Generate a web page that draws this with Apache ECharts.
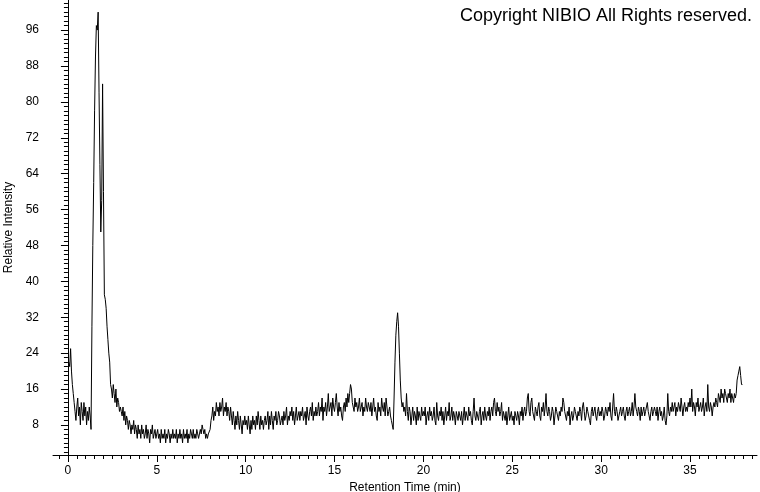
<!DOCTYPE html>
<html>
<head>
<meta charset="utf-8">
<script src="https://cdn.jsdelivr.net/npm/echarts@6/dist/echarts.min.js"></script>
<style>
  html, body { margin: 0; padding: 0; background: #fff; }
  #chart { width: 760px; height: 492px; }
</style>
</head>
<body>
<div id="chart"></div>
<script>
// retention time of first sample and sampling step (min)
const startTime = 0.05
const sampleStep = 0.05

// relative intensity, one value per sample (20 per minute)
const intensity = [
  22, 21, 25, 20, 17, 15, 13, 11, 9, 12, 14, 10, 12, 8, 13, 11, 9, 13, 10, 12,
  8, 11, 9, 12, 10, 7, 30, 48, 62, 78, 90, 97, 96, 100, 82, 66, 51, 58, 84, 60,
  37, 36, 34, 30, 27, 24, 22, 17, 16, 14, 17, 15, 13, 16, 12, 14, 13, 11, 12, 11,
  10, 12, 9, 11, 8, 10, 9, 7, 9, 8, 6, 8, 7, 9, 6, 8, 7, 5, 8, 6,
  7, 5, 8, 6, 7, 5, 6, 8, 5, 7, 6, 4, 7, 6, 8, 5, 6, 7, 5, 6,
  7, 5, 6, 4, 7, 5, 6, 5, 7, 4, 6, 5, 7, 6, 4, 6, 5, 7, 5, 6,
  5, 7, 4, 6, 5, 7, 5, 6, 4, 7, 5, 6, 5, 7, 4, 6, 5, 7, 6, 5,
  7, 5, 6, 5, 7, 6, 5, 6, 7, 6, 8, 7, 6, 7, 5, 6, 5, 6, 6, 7,
  9, 10, 12, 9, 11, 10, 13, 11, 12, 10, 13, 11, 12, 14, 10, 12, 11, 13, 10, 12,
  11, 9, 12, 10, 8, 11, 9, 7, 10, 8, 11, 9, 7, 10, 8, 6, 9, 8, 10, 8,
  9, 7, 10, 8, 6, 9, 7, 10, 8, 9, 7, 10, 8, 11, 9, 7, 10, 8, 9, 7,
  9, 10, 8, 9, 11, 7, 10, 8, 11, 9, 7, 10, 9, 11, 8, 9, 11, 10, 8, 9,
  10, 8, 11, 9, 10, 12, 8, 10, 9, 11, 10, 12, 9, 11, 8, 10, 12, 9, 10, 11,
  9, 11, 10, 12, 9, 10, 11, 8, 12, 10, 9, 11, 12, 10, 13, 9, 11, 10, 12, 10,
  11, 13, 10, 12, 11, 14, 9, 12, 11, 13, 10, 12, 15, 11, 12, 13, 10, 14, 12, 11,
  13, 15, 12, 10, 13, 11, 12, 10, 9, 12, 13, 11, 14, 12, 15, 13, 15, 17, 16, 13,
  12, 11, 14, 12, 13, 11, 12, 14, 11, 12, 13, 10, 12, 11, 14, 12, 11, 13, 12, 11,
  13, 10, 12, 14, 11, 12, 10, 9, 13, 11, 12, 10, 14, 12, 11, 13, 10, 14, 12, 10,
  11, 12, 10, 9, 8, 7, 14, 22, 28, 31, 33, 30, 24, 18, 14, 12, 13, 11, 12, 10,
  15, 11, 9, 12, 11, 8, 10, 12, 9, 11, 10, 8, 12, 9, 11, 10, 9, 12, 10, 11,
  10, 12, 8, 10, 11, 9, 12, 10, 11, 9, 10, 12, 9, 8, 13, 10, 9, 11, 10, 12,
  9, 11, 8, 10, 12, 9, 11, 10, 13, 9, 10, 12, 9, 11, 10, 8, 11, 10, 9, 11,
  10, 9, 11, 8, 10, 12, 9, 11, 10, 9, 12, 10, 11, 9, 8, 11, 14, 10, 9, 11,
  10, 9, 11, 12, 8, 10, 11, 9, 12, 10, 9, 11, 10, 12, 9, 11, 12, 10, 13, 14,
  11, 10, 13, 11, 12, 10, 11, 13, 9, 11, 10, 9, 11, 8, 10, 12, 9, 10, 11, 9,
  10, 8, 11, 10, 9, 11, 10, 8, 11, 10, 12, 9, 11, 12, 10, 11, 14, 15, 11, 10,
  13, 14, 11, 10, 9, 12, 11, 10, 12, 13, 10, 9, 12, 11, 13, 10, 12, 15, 11, 10,
  12, 11, 9, 10, 12, 11, 8, 10, 12, 11, 10, 9, 11, 10, 12, 11, 14, 13, 11, 10,
  9, 11, 10, 12, 8, 10, 11, 9, 10, 12, 11, 10, 9, 11, 10, 12, 11, 9, 12, 13,
  11, 9, 10, 12, 11, 10, 9, 8, 11, 12, 10, 11, 12, 10, 9, 11, 12, 10, 11, 10,
  12, 11, 9, 10, 12, 11, 10, 12, 11, 13, 10, 9, 12, 15, 11, 10, 12, 11, 9, 10,
  11, 12, 10, 11, 12, 10, 9, 11, 12, 10, 11, 12, 10, 11, 13, 10, 12, 15, 12, 11,
  10, 12, 11, 9, 12, 10, 11, 12, 10, 11, 12, 13, 11, 10, 9, 11, 12, 10, 11, 12,
  11, 10, 12, 9, 11, 12, 10, 11, 9, 10, 12, 9, 8, 10, 15, 11, 10, 12, 11, 13,
  11, 12, 13, 10, 12, 11, 13, 12, 11, 14, 12, 10, 12, 13, 11, 12, 11, 13, 12, 14,
  12, 16, 11, 13, 12, 10, 13, 12, 14, 11, 12, 13, 11, 12, 14, 10, 12, 13, 11, 17,
  12, 11, 13, 12, 10, 12, 13, 12, 14, 13, 12, 15, 14, 13, 16, 14, 15, 13, 16, 15,
  14, 13, 15, 14, 16, 13, 15, 14, 13, 15, 14, 15, 18, 19, 20, 21, 19, 17, 17
]

// axis ticks and labels
const yLabelValues = [8, 16, 24, 32, 40, 48, 56, 64, 72, 80, 88, 96]
const yMinorTicks = []
for (let v = 2; v <= 102; v++) yMinorTicks.push(v)
const xLabelValues = [0, 5, 10, 15, 20, 25, 30, 35]
const xMinorTicks = []
for (let v = -0.5; v <= 38.5; v += 0.5) xMinorTicks.push(v)

const trace = intensity.map((v, i) => [+(startTime + i * sampleStep).toFixed(2), v])

const font = 'Arial, "Liberation Sans", sans-serif'
const xRange = {min: -0.84, max: 38.77}
const yRange = {min: 1.3, max: 102.7}

const chart = echarts.init(document.getElementById('chart'))
chart.setOption({
  animation: false,
  backgroundColor: '#fff',
  title: {
    text: 'Copyright NIBIO All Rights reserved.',
    right: 3,
    top: 2,
    textStyle: {fontFamily: font, fontSize: 18, fontWeight: 'normal', color: '#000'},
  },
  grid: {left: 53, right: 3, top: 0, bottom: 37, containLabel: false, outerBoundsMode: 'none'},
  xAxis: [
    {
      type: 'value',
      ...xRange,
      name: 'Retention Time (min)',
      nameLocation: 'middle',
      nameGap: 24,
      nameTextStyle: {fontFamily: font, fontSize: 12, color: '#000'},
      axisLine: {lineStyle: {color: '#000', width: 1}},
      axisTick: {customValues: xLabelValues, length: 7, lineStyle: {color: '#000'}},
      axisLabel: {customValues: xLabelValues, fontFamily: font, fontSize: 12, color: '#000', margin: 10},
      splitLine: {show: false},
    },
    {
      type: 'value',
      ...xRange,
      position: 'bottom',
      axisLine: {show: false},
      axisTick: {customValues: xMinorTicks, length: 4, lineStyle: {color: '#000'}},
      axisLabel: {show: false},
      splitLine: {show: false},
    },
  ],
  yAxis: [
    {
      type: 'value',
      ...yRange,
      name: 'Relative Intensity',
      nameLocation: 'middle',
      nameGap: 38,
      nameTextStyle: {fontFamily: font, fontSize: 12, color: '#000'},
      axisLine: {show: true, lineStyle: {color: '#000', width: 1}},
      axisTick: {customValues: yLabelValues, length: 7, lineStyle: {color: '#000'}},
      axisLabel: {customValues: yLabelValues, fontFamily: font, fontSize: 12, color: '#000', margin: 14},
      splitLine: {show: false},
    },
    {
      type: 'value',
      ...yRange,
      position: 'left',
      axisLine: {show: false},
      axisTick: {show: true, customValues: yMinorTicks, length: 4, lineStyle: {color: '#000'}},
      axisLabel: {show: false},
      splitLine: {show: false},
    },
  ],
  series: [
    {
      type: 'line',
      data: trace,
      showSymbol: false,
      lineStyle: {color: '#000', width: 1},
      silent: true,
    },
  ],
})
</script>
</body>
</html>
